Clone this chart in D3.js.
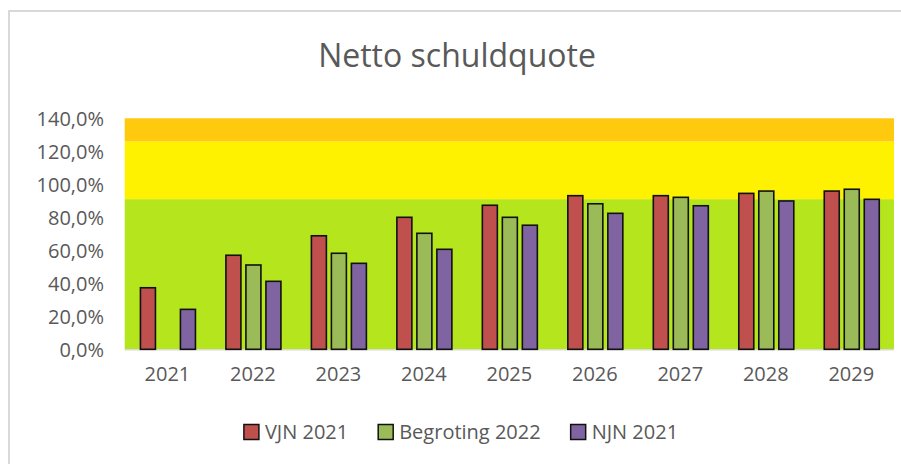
<!DOCTYPE html>
<html>
<head>
<meta charset="utf-8">
<script src="https://cdn.jsdelivr.net/npm/d3@7"></script>
<style>
  html, body { margin: 0; padding: 0; background: #fff; }
  svg { display: block; }
  text { font-family: "Open Sans", "Noto Sans", sans-serif; fill: #595959; }
</style>
</head>
<body>
<svg id="chart" width="901" height="464"></svg>
<script>
// ---- data ----
const title = "Netto schuldquote";
const years = ["2021", "2022", "2023", "2024", "2025", "2026", "2027", "2028", "2029"];
const seriesNames = ["VJN 2021", "Begroting 2022", "NJN 2021"];
const vjn2021 = [37.3, 57.0, 68.8, 80.0, 87.3, 93.1, 93.1, 94.5, 95.9];
const begroting2022 = [null, 51.1, 58.2, 70.3, 80.0, 88.2, 92.1, 95.9, 97.0];
const njn2021 = [24.2, 41.2, 52.1, 60.6, 75.2, 82.4, 87.0, 89.9, 90.9];
const yTickValues = [0, 20, 40, 60, 80, 100, 120, 140];
const bandLimits = [0, 91, 126, 140];

// ---- styles ----
const seriesColors = ["#C0504D", "#9BBB59", "#8064A2"];
const bandColors = ["#B5E61D", "#FFF200", "#FFC90E"];

const svg = d3.select("#chart");
const plot = { left: 124.7, right: 894, top: 118.3, bottom: 349.3 };

// chart border
svg.append("rect").attr("x", 9).attr("y", 11).attr("width", 901).attr("height", 464)
  .attr("fill", "none").attr("stroke", "#d9d9d9").attr("stroke-width", 2);

const x0 = d3.scaleBand().domain(years).range([plot.left, plot.right]).padding(0);
const x1 = d3.scaleBand().domain(seriesNames).range([-27, 28]).paddingInner(0.25).paddingOuter(0);
const y = d3.scaleLinear().domain([0, 140]).range([plot.bottom, plot.top]);

// background bands
const bands = d3.pairs(bandLimits);
svg.append("g").selectAll("rect").data(bands).join("rect")
  .attr("x", plot.left).attr("width", plot.right - plot.left)
  .attr("y", d => y(d[1])).attr("height", d => y(d[0]) - y(d[1]))
  .attr("fill", (d, i) => bandColors[i]);

// axis line bottom
svg.append("line").attr("x1", plot.left).attr("x2", plot.right)
  .attr("y1", plot.bottom + 0.5).attr("y2", plot.bottom + 0.5)
  .attr("stroke", "#d9d9d9").attr("stroke-width", 1.5);

// bars
const allSeries = [vjn2021, begroting2022, njn2021];
const barData = [];
years.forEach((yr, i) => {
  allSeries.forEach((s, j) => {
    if (s[i] != null) barData.push({ year: yr, series: seriesNames[j], value: s[i], idx: j });
  });
});
svg.append("g").selectAll("rect").data(barData).join("rect")
  .attr("x", d => x0(d.year) + x0.bandwidth() / 2 + x1(d.series))
  .attr("width", x1.bandwidth())
  .attr("y", d => y(d.value))
  .attr("height", d => y(0) - y(d.value))
  .attr("fill", d => seriesColors[d.idx])
  .attr("stroke", "#111").attr("stroke-width", 1.6);

// y axis
const fmt = d3.formatLocale({ decimal: ",", thousands: ".", grouping: [3], currency: ["", ""] }).format(".1%");
const yAxis = d3.axisLeft(y).tickValues(yTickValues).tickSize(0).tickPadding(0)
  .tickFormat(d => fmt(d / 100));
const gy = svg.append("g").attr("transform", `translate(104,0)`).call(yAxis);
gy.select(".domain").remove();
gy.selectAll("text").attr("font-size", 20).attr("fill", "#595959")
  .attr("font-family", "Open Sans").attr("dy", "0.35em");

// x axis
const xAxis = d3.axisBottom(x0).tickSize(0).tickPadding(0);
const gx = svg.append("g").attr("transform", `translate(0,${plot.bottom + 17})`).call(xAxis);
gx.select(".domain").remove();
gx.selectAll("text").attr("font-size", 20).attr("fill", "#595959")
  .attr("font-family", "Open Sans").attr("dy", "0.71em");

// title
svg.append("text").attr("x", 457).attr("y", 67).attr("text-anchor", "middle")
  .attr("font-size", 32).text(title);

// legend
const lg = svg.append("g");
const items = lg.selectAll("g").data(seriesNames).join("g");
items.append("rect").attr("width", 15).attr("height", 15).attr("y", 424.5)
  .attr("fill", (d, i) => seriesColors[i]).attr("stroke", "#111").attr("stroke-width", 1.5);
items.append("text").attr("x", 21).attr("y", 432).attr("dy", "0.35em")
  .attr("font-size", 20).text(d => d);
const widths = [];
items.each(function () { widths.push(21 + d3.select(this).select("text").node().getComputedTextLength()); });
const gap = 30;
const total = d3.sum(widths) + gap * (widths.length - 1);
let cx = 461 - total / 2;
items.each(function (d, i) {
  d3.select(this).attr("transform", `translate(${cx},0)`);
  cx += widths[i] + gap;
});
</script>
</body>
</html>
